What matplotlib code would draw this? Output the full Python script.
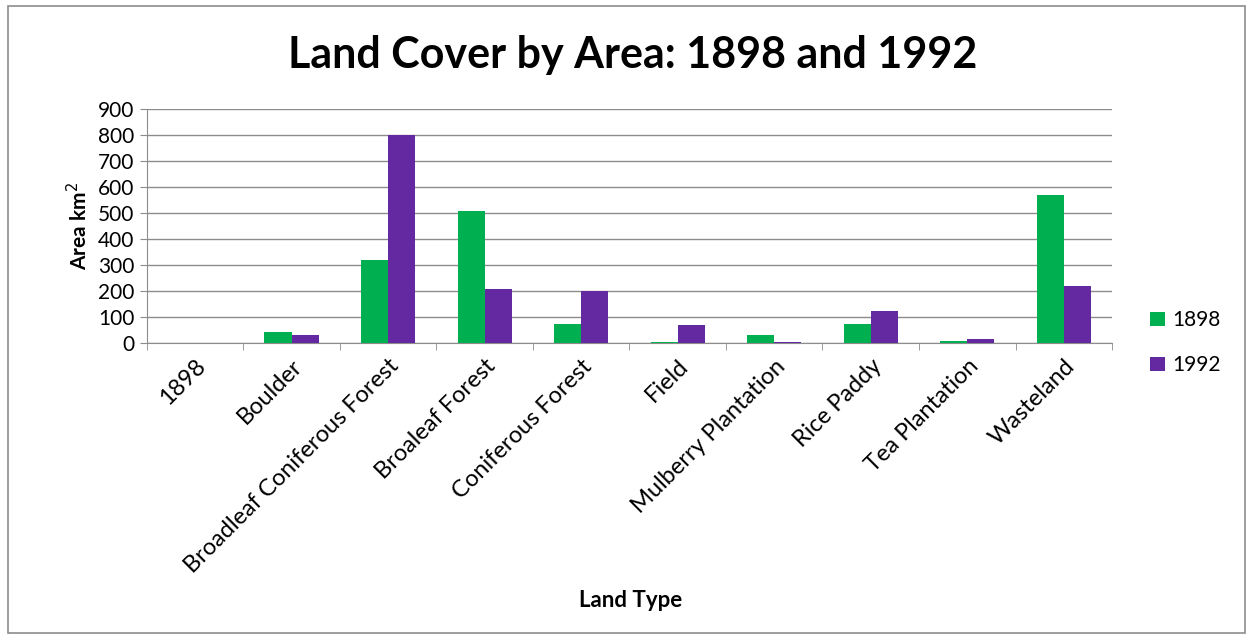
import numpy as np
import matplotlib.pyplot as plt
from matplotlib.patches import Rectangle

plt.rcParams['font.family'] = ['Lato', 'DejaVu Sans']

categories = ["1898", "Boulder", "Broadleaf Coniferous Forest", "Broaleaf Forest",
              "Coniferous Forest", "Field", "Mulberry Plantation", "Rice Paddy",
              "Tea Plantation", "Wasteland"]
area_1898 = [0, 41, 319, 509, 74, 4, 32, 73, 8, 568]
area_1992 = [0, 31, 801, 206, 200, 68, 5, 123, 14, 218]

green = "#00b050"
purple = "#6429a0"

fig = plt.figure(figsize=(12.53, 6.41), dpi=100)
ax = fig.add_axes([0.1171, 0.465, 0.7704, 0.365])

x = np.arange(len(categories))
w = 0.28
ax.bar(x - w / 2, area_1898, w, color=green, label="1898", zorder=3)
ax.bar(x + w / 2, area_1992, w, color=purple, label="1992", zorder=3)

ax.set_xlim(-0.5, len(categories) - 0.5)
ax.set_ylim(0, 900)
ax.set_yticks(np.arange(0, 901, 100))
ax.yaxis.grid(True, color="#8c8c8c", linewidth=1)
ax.set_axisbelow(True)

ax.set_xticks(x)
ax.set_xticklabels(categories, rotation=45, ha="right", rotation_mode="anchor", fontsize=17)
ax.set_xticks(np.arange(-0.5, len(categories), 1), minor=True)
ax.tick_params(axis="x", which="major", length=0, pad=9)
ax.tick_params(axis="x", which="minor", length=5, color="#8c8c8c")
ax.tick_params(axis="y", length=5, color="#8c8c8c", labelsize=15, pad=4)

for s in ["top", "right"]:
    ax.spines[s].set_visible(False)
for s in ["left", "bottom"]:
    ax.spines[s].set_color("#8c8c8c")

ax.set_ylabel("Area km$^2$", fontsize=15, fontweight="bold", labelpad=5)
fig.text(0.503, 0.063, "Land Type", fontsize=16, fontweight="bold", ha="center", va="center")
fig.text(0.505, 0.914, "Land Cover by Area: 1898 and 1992", fontsize=31,
         fontweight="bold", ha="center", va="center")

ax.legend(loc="center left", bbox_to_anchor=(1.02, 0.0), frameon=False, fontsize=15,
          handlelength=0.7, handleheight=0.7, handletextpad=0.35, labelspacing=1.2)

fig.patches.append(Rectangle((0.006, 0.012), 0.988, 0.978, transform=fig.transFigure,
                             fill=False, edgecolor="#8c8c8c", linewidth=1.2))

fig.savefig("out.png", dpi=100)
